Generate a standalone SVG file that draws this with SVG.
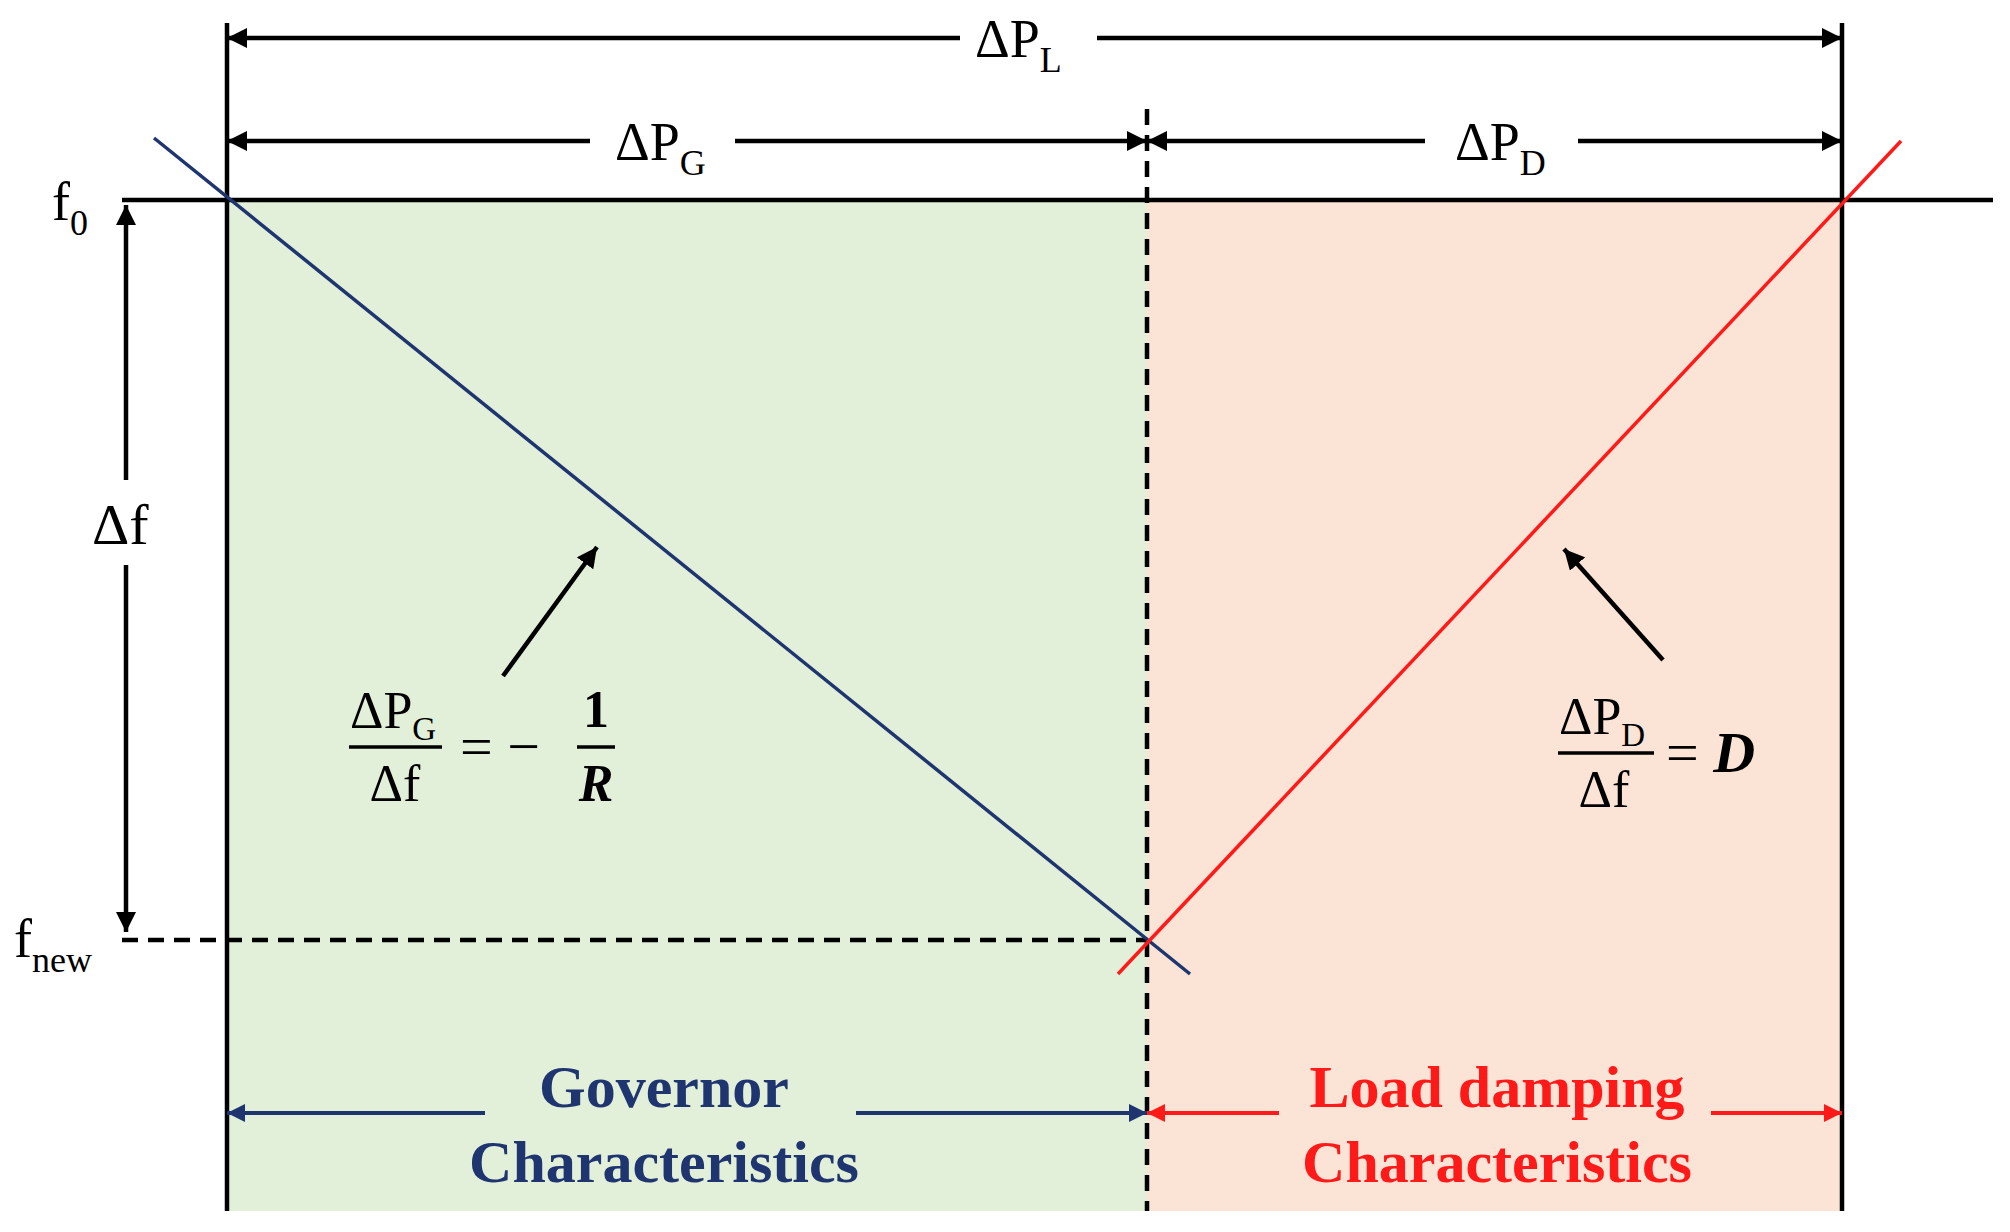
<svg xmlns="http://www.w3.org/2000/svg" width="2010" height="1232" viewBox="0 0 2010 1232">
<style>
.t{font-family:"Liberation Serif",serif;fill:#000}
.k{stroke:#000;stroke-width:4.5;fill:none}
.d{stroke:#000;stroke-width:4.5;stroke-dasharray:16,10;fill:none}
.b{font-family:"Liberation Serif",serif;font-weight:bold;font-size:60px;text-anchor:middle}
</style>
<defs>
<marker id="ak" viewBox="0 0 10 10" refX="10" refY="5" markerWidth="4.5" markerHeight="4.5" orient="auto-start-reverse"><path d="M0,0L10,5L0,10z" fill="#000"/></marker>
<marker id="ab" viewBox="0 0 10 10" refX="10" refY="5" markerWidth="4.5" markerHeight="4.5" orient="auto-start-reverse"><path d="M0,0L10,5L0,10z" fill="#1f3570"/></marker>
<marker id="ar" viewBox="0 0 10 10" refX="10" refY="5" markerWidth="4.5" markerHeight="4.5" orient="auto-start-reverse"><path d="M0,0L10,5L0,10z" fill="#ff1a1a"/></marker>
</defs>
<rect width="2010" height="1232" fill="#fff"/>
<g id="regions">
<rect x="227" y="200" width="920" height="1011" fill="#e2efd9"/>
<rect x="1147" y="200" width="695" height="1011" fill="#fbe4d5"/>
</g>
<g id="axes">
<line class="k" x1="227" y1="23" x2="227" y2="1211"/>
<line class="k" x1="1842" y1="23" x2="1842" y2="1211"/>
<line class="d" x1="1147" y1="109" x2="1147" y2="1211"/>
<line class="k" x1="122" y1="200" x2="1993" y2="200"/>
<line class="d" x1="122" y1="940" x2="1147" y2="940"/>
</g>
<g id="characteristics">
<line x1="154" y1="138" x2="1190" y2="974" stroke="#1f3570" stroke-width="3.5"/>
<line x1="1118" y1="974" x2="1901" y2="141" stroke="#ff1a1a" stroke-width="3.5"/>
</g>
<g id="connectors">
<line class="k" x1="227" y1="38" x2="960" y2="38" marker-start="url(#ak)"/>
<line class="k" x1="1097" y1="38" x2="1842" y2="38" marker-end="url(#ak)"/>
<line class="k" x1="227" y1="141" x2="590" y2="141" marker-start="url(#ak)"/>
<line class="k" x1="735" y1="141" x2="1147" y2="141" marker-end="url(#ak)"/>
<line class="k" x1="1147" y1="141" x2="1425" y2="141" marker-start="url(#ak)"/>
<line class="k" x1="1578" y1="141" x2="1842" y2="141" marker-end="url(#ak)"/>
<line class="k" x1="126" y1="205" x2="126" y2="480" marker-start="url(#ak)"/>
<line class="k" x1="126" y1="565" x2="126" y2="932" marker-end="url(#ak)"/>
<line class="k" x1="503" y1="676" x2="597" y2="547" marker-end="url(#ak)"/>
<line class="k" x1="1663" y1="660" x2="1564" y2="549" marker-end="url(#ak)"/>
<line x1="227" y1="1113" x2="485" y2="1113" stroke="#1f3570" stroke-width="4" marker-start="url(#ab)"/>
<line x1="856" y1="1113" x2="1147" y2="1113" stroke="#1f3570" stroke-width="4" marker-end="url(#ab)"/>
<line x1="1147" y1="1113" x2="1279" y2="1113" stroke="#ff1a1a" stroke-width="4" marker-start="url(#ar)"/>
<line x1="1711" y1="1113" x2="1842" y2="1113" stroke="#ff1a1a" stroke-width="4" marker-end="url(#ar)"/>
</g>
<g id="labels">
<text class="t" x="975" y="57" font-size="54">ΔP<tspan font-size="36" dy="15">L</tspan></text>
<text class="t" x="615" y="160" font-size="54">ΔP<tspan font-size="36" dy="15">G</tspan></text>
<text class="t" x="1455" y="160" font-size="54">ΔP<tspan font-size="36" dy="15">D</tspan></text>
<text class="t" x="52" y="220" font-size="54">f<tspan font-size="36" dy="15">0</tspan></text>
<text class="t" x="14" y="957" font-size="54">f<tspan font-size="36" dy="15">new</tspan></text>
<text class="t" x="92" y="544" font-size="58">Δf</text>
</g>
<g id="formula-governor">
<text class="t" x="350" y="728" font-size="52">ΔP<tspan font-size="33" dy="12">G</tspan></text>
<line x1="349" y1="747" x2="442" y2="747" stroke="#000" stroke-width="3.5"/>
<text class="t" x="395" y="801" font-size="52" text-anchor="middle">Δf</text>
<text class="t" x="460" y="766" font-size="58">= −</text>
<text class="t" x="596" y="727" font-size="52" font-weight="bold" text-anchor="middle">1</text>
<line x1="577" y1="747" x2="615" y2="747" stroke="#000" stroke-width="3.5"/>
<text class="t" x="596" y="801" font-size="52" font-weight="bold" font-style="italic" text-anchor="middle">R</text>
</g>
<g id="formula-load">
<text class="t" x="1559" y="734" font-size="52">ΔP<tspan font-size="33" dy="12">D</tspan></text>
<line x1="1558" y1="753" x2="1654" y2="753" stroke="#000" stroke-width="3.5"/>
<text class="t" x="1604" y="807" font-size="52" text-anchor="middle">Δf</text>
<text class="t" x="1666" y="772" font-size="58">= <tspan font-weight="bold" font-style="italic">D</tspan></text>
</g>
<g id="captions">
<text class="b" x="664" y="1107" fill="#1f3570">Governor</text>
<text class="b" x="664" y="1182" fill="#1f3570">Characteristics</text>
<text class="b" x="1497" y="1107" fill="#ff1a1a">Load damping</text>
<text class="b" x="1497" y="1182" fill="#ff1a1a">Characteristics</text>
</g>
</svg>
